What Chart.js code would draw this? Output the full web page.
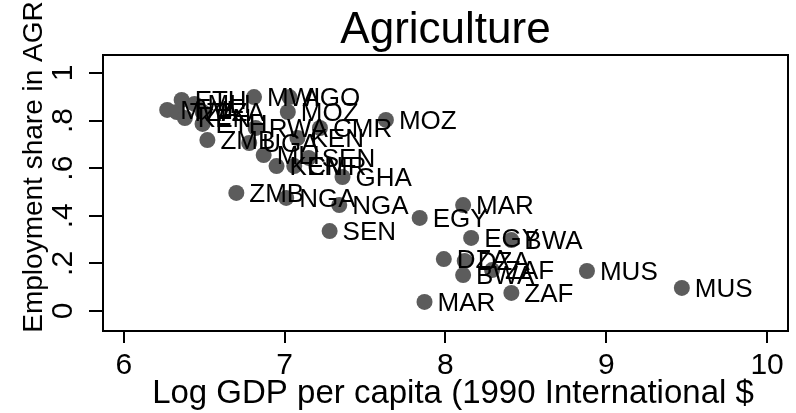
<!DOCTYPE html>
<html>
<head>
<meta charset="utf-8">
<script src="https://cdn.jsdelivr.net/npm/chart.js@4.4.1/dist/chart.umd.min.js"></script>
<style>
  html, body { margin: 0; padding: 0; background: #fff; }
  #wrap { width: 796px; height: 413px; }
</style>
</head>
<body>
<div id="wrap"><canvas id="myChart"></canvas></div>
<script>
// country codes and values
var countries = ['MWI', 'TZA', 'ETH', 'KEN', 'TZA', 'ETH', 'ZMB', 'MLI', 'MWI', 'AGO',
                 'MOZ', 'RWA', 'CMR', 'KEN', 'UGA', 'MLI', 'KEN', 'CMR', 'SEN', 'GHA',
                 'MOZ', 'ZMB', 'NGA', 'NGA', 'SEN', 'EGY', 'MAR', 'EGY', 'BWA', 'DZA',
                 'DZA', 'BWA', 'ZAF', 'ZAF', 'MAR', 'MUS', 'MUS'];
var logGdp = [6.27, 6.33, 6.36, 6.38, 6.49, 6.49, 6.52, 6.44, 6.81, 7.03,
              7.02, 6.82, 7.22, 7.08, 6.78, 6.87, 6.95, 7.06, 7.15, 7.36,
              7.63, 6.70, 7.01, 7.34, 7.28, 7.84, 8.11, 8.16, 8.41, 7.99,
              8.12, 8.11, 8.29, 8.41, 7.87, 8.88, 9.47];
var agrShare = [0.845, 0.836, 0.887, 0.811, 0.836, 0.786, 0.718, 0.870, 0.899, 0.899,
                0.836, 0.769, 0.769, 0.727, 0.706, 0.655, 0.609, 0.609, 0.643, 0.563,
                0.803, 0.496, 0.475, 0.445, 0.336, 0.391, 0.445, 0.307, 0.298, 0.218,
                0.210, 0.151, 0.172, 0.076, 0.038, 0.168, 0.097];

var xTicks = [6, 7, 8, 9, 10];
var yTicks = [0, 0.2, 0.4, 0.6, 0.8, 1];
var yTickLabels = ['0', '.2', '.4', '.6', '.8', '1'];

var FONT = '"Liberation Sans", Arial, Helvetica, sans-serif';

var points = logGdp.map(function (x, i) { return { x: x, y: agrShare[i] }; });

var extras = {
    id: 'extras',
    afterDatasetsDraw: function (chart) {
        var ctx = chart.ctx;
        var meta = chart.getDatasetMeta(0);
        ctx.save();
        ctx.fillStyle = '#000';
        ctx.font = '26px ' + FONT;
        ctx.textAlign = 'left';
        ctx.textBaseline = 'middle';
        meta.data.forEach(function (pt, i) {
            ctx.fillText(countries[i], pt.x + 13, pt.y + 2);
        });
        ctx.restore();
    },
    afterDraw: function (chart) {
        var ctx = chart.ctx;
        var a = chart.chartArea;
        ctx.save();
        // frame round the plot region
        ctx.strokeStyle = '#000';
        ctx.lineWidth = 2;
        ctx.strokeRect(a.left, a.top, a.right - a.left, a.bottom - a.top);

        ctx.fillStyle = '#000';
        ctx.textAlign = 'center';
        ctx.textBaseline = 'alphabetic';
        ctx.font = '44px ' + FONT;
        ctx.fillText('Agriculture', (a.left + a.right) / 2, 43);

        ctx.font = '33px ' + FONT;
        ctx.fillText('Log GDP per capita (1990 International $', 453, 403);

        ctx.translate(42, 167);
        ctx.rotate(-Math.PI / 2);
        ctx.font = '28px ' + FONT;
        ctx.fillText('Employment share in AGR', 0, 0);
        ctx.restore();
    }
};

var ctx = document.getElementById('myChart');
var myChart = new Chart(ctx, {
    type: 'scatter',
    data: {
        datasets: [{
            label: 'Agriculture',
            data: points,
            pointRadius: 8,
            pointHoverRadius: 8,
            pointBorderWidth: 0,
            backgroundColor: 'rgb(92,92,92)',
            borderColor: 'rgb(92,92,92)'
        }]
    },
    options: {
        responsive: true,
        maintainAspectRatio: false,
        animation: false,
        events: [],
        layout: {
            padding: { top: 55, right: 2, left: 0, bottom: 0 }
        },
        plugins: {
            legend: { display: false },
            tooltip: { enabled: false }
        },
        scales: {
            x: {
                type: 'linear',
                min: 5.871,
                max: 10.13,
                afterFit: function (s) { s.height = 82; },
                afterBuildTicks: function (s) {
                    s.ticks = xTicks.map(function (v) { return { value: v }; });
                },
                grid: {
                    drawOnChartArea: false,
                    drawTicks: true,
                    tickLength: 12,
                    color: '#000',
                    lineWidth: 2
                },
                border: { display: true, color: '#000', width: 2 },
                ticks: {
                    autoSkip: false,
                    maxRotation: 0,
                    padding: 5,
                    color: '#000',
                    font: { family: FONT, size: 30 }
                }
            },
            y: {
                type: 'linear',
                min: -0.084,
                max: 1.0756,
                afterFit: function (s) { s.width = 103; },
                afterBuildTicks: function (s) {
                    s.ticks = yTicks.map(function (v) { return { value: v }; });
                },
                grid: {
                    drawOnChartArea: false,
                    drawTicks: true,
                    tickLength: 14,
                    color: '#000',
                    lineWidth: 2
                },
                border: { display: true, color: '#000', width: 2 },
                ticks: {
                    autoSkip: false,
                    minRotation: 90,
                    maxRotation: 90,
                    crossAlign: 'center',
                    padding: 13,
                    color: '#000',
                    font: { family: FONT, size: 30 },
                    callback: function (value) {
                        var i = yTicks.indexOf(value);
                        return i >= 0 ? yTickLabels[i] : '';
                    }
                }
            }
        }
    },
    plugins: [extras]
});
</script>
</body>
</html>
